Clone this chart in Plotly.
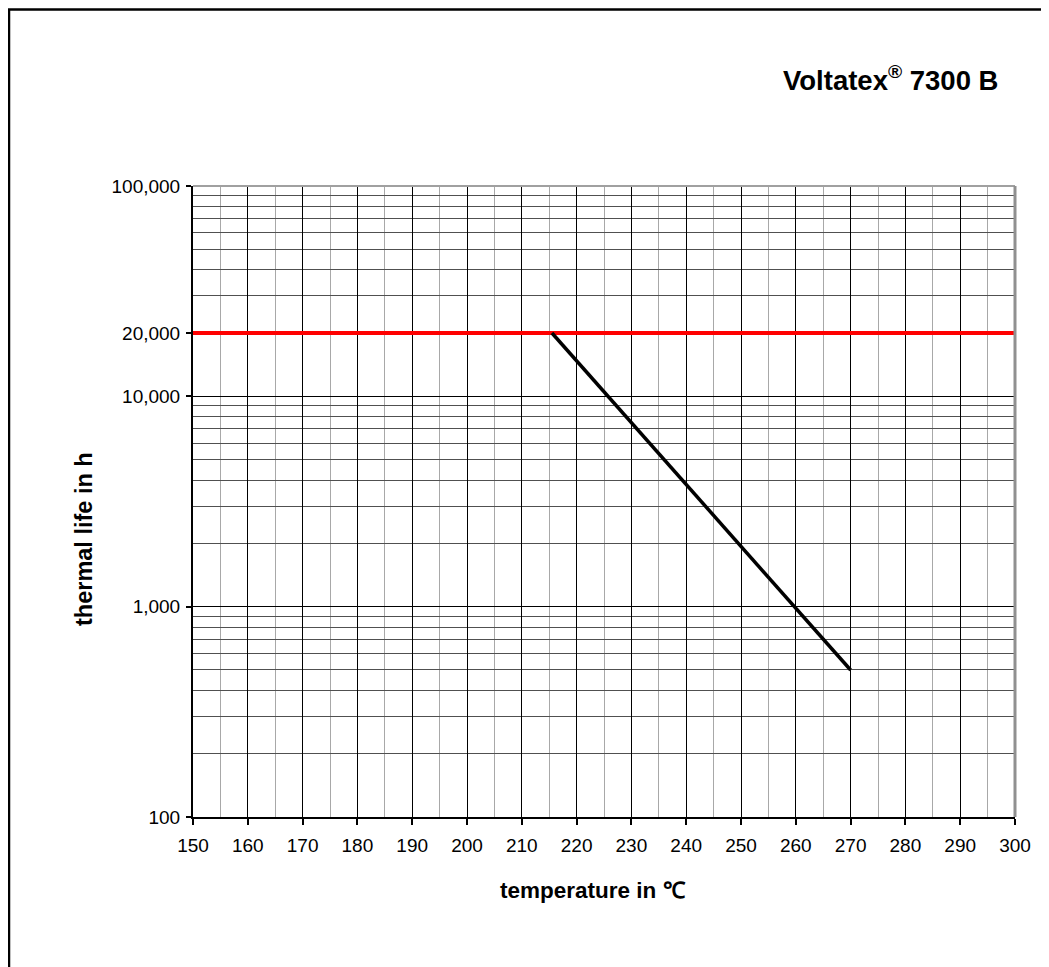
import plotly.graph_objects as go

# Data
limit_temp = [150, 300]
limit_life = [20000, 20000]
life_temp = [215.5, 270]
life_hours = [20000, 500]

y_tickvals = [100, 1000, 10000, 20000, 100000]
y_ticktext = ["100", "1,000", "10,000", "20,000", "100,000"]
y_minor = [m * d for d in (100, 1000, 10000) for m in range(2, 10) if m * d not in (20000,)]
x_tickvals = list(range(150, 301, 10))

OFF = 8  # page body margin
W, H = 1041, 959
L, R, T, B = 185, 34, 178, 150
pw, ph = W - L - R, H - T - B

def px(xpage):
    return (xpage - OFF - L) / pw

def py(ypage):
    return (H - B - (ypage - OFF)) / ph

FONT = "Liberation Sans, Arial, sans-serif"

fig = go.Figure()
fig.add_trace(go.Scatter(x=limit_temp, y=limit_life, mode="lines",
                         line=dict(color="#ff0000", width=4), showlegend=False,
                         hoverinfo="skip"))
fig.add_trace(go.Scatter(x=life_temp, y=life_hours, mode="lines",
                         line=dict(color="#000000", width=3.5), showlegend=False))

fig.update_layout(
    width=W, height=H, autosize=False,
    margin=dict(l=L, r=R, t=T, b=B, pad=0),
    paper_bgcolor="white", plot_bgcolor="white",
    font=dict(family=FONT, color="black", size=19),
    xaxis=dict(
        range=[150, 300], tickvals=x_tickvals, ticktext=[str(v) for v in x_tickvals],
        showgrid=True, gridcolor="#000000", gridwidth=1,
        ticks="outside", ticklen=6, tickcolor="black", tickwidth=1.5,
        showline=True, linecolor="black", linewidth=2,
        tickfont=dict(size=19, family=FONT), ticklabelstandoff=4,
        minor=dict(dtick=5, tick0=150, showgrid=True, gridcolor="#a8a8a8", gridwidth=1, ticks=""),
        zeroline=False, fixedrange=True,
    ),
    yaxis=dict(
        type="log", range=[2, 5], tickvals=y_tickvals, ticktext=y_ticktext,
        showgrid=True, gridcolor="#000000", gridwidth=1,
        ticks="outside", ticklen=5, tickcolor="black", tickwidth=1.5,
        showline=True, linecolor="black", linewidth=2,
        tickfont=dict(size=19, family=FONT), ticklabelstandoff=2,
        minor=dict(tickmode="array", tickvals=y_minor, showgrid=True,
                   gridcolor="#505050", gridwidth=1, ticks=""),
        zeroline=False, fixedrange=True,
    ),
    shapes=[
        dict(type="line", xref="paper", yref="paper", x0=0, x1=1, y0=1, y1=1,
             line=dict(color="#a0a0a0", width=2)),
        dict(type="line", xref="paper", yref="paper", x0=1, x1=1, y0=0, y1=1,
             line=dict(color="#909090", width=3)),
        dict(type="rect", xref="paper", yref="paper",
             x0=px(9), x1=px(1080), y0=py(1000), y1=py(9.5),
             line=dict(color="black", width=2.5), layer="above"),
    ],
    annotations=[
        dict(text="<b>Voltatex<sup>®</sup> 7300 B</b>", xref="paper", yref="paper",
             x=px(1000), y=py(79), xanchor="right", yanchor="middle",
             showarrow=False, font=dict(size=27.5, family=FONT)),
        dict(text="<b>temperature in ℃</b>", xref="paper", yref="paper",
             x=px(593), y=py(890), xanchor="center", yanchor="middle",
             showarrow=False, font=dict(size=22.5, family=FONT)),
        dict(text="<b>thermal life in h</b>", xref="paper", yref="paper",
             x=px(84), y=py(539), xanchor="center", yanchor="middle", textangle=-90,
             showarrow=False, font=dict(size=23.5, family=FONT)),
    ],
)

fig.write_html("out.html")
